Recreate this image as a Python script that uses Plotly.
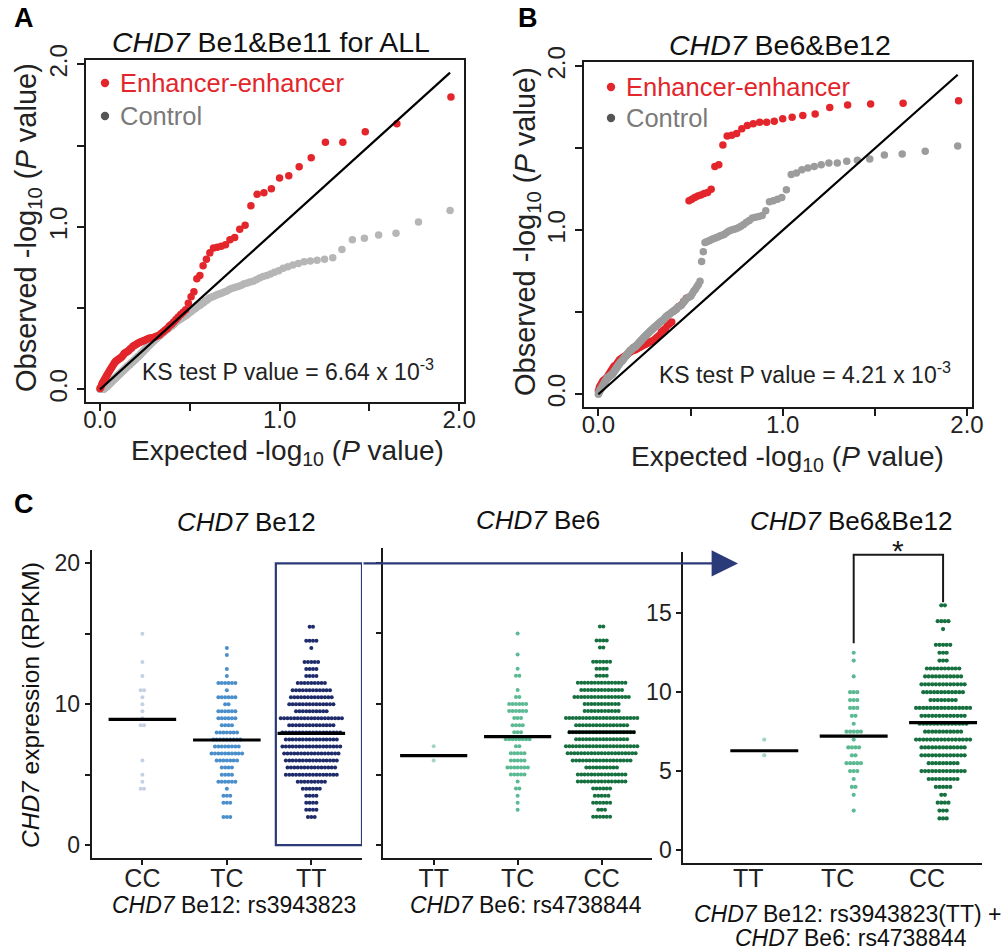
import numpy as np
import plotly.graph_objects as go

W, H = 1006, 952
FONT = "Arial, 'Liberation Sans', Helvetica, sans-serif"

# ---------------- QQ plot data (observed -log10 P, sorted by rank) ----------------
N_EE = 90            # enhancer-enhancer pairs
N_CTRL = 178         # control pairs
CTRL_FIRST_RANK = 2  # control rank 1 lies beyond the x range

a_ee_obs = [1.80, 1.635, 1.585, 1.52, 1.52, 1.425, 1.37, 1.315, 1.30, 1.235,
            1.21, 1.20, 1.13, 1.01, 0.985, 0.935, 0.92, 0.89, 0.88, 0.875,
            0.87, 0.84, 0.80, 0.76, 0.70, 0.68, 0.60, 0.57, 0.53, 0.49,
            0.475, 0.46, 0.445, 0.43, 0.415, 0.40, 0.39, 0.375, 0.365, 0.355,
            0.345, 0.335, 0.33, 0.325, 0.32, 0.318, 0.316, 0.314, 0.31, 0.305,
            0.30, 0.297, 0.293, 0.29, 0.285, 0.28, 0.275, 0.27, 0.265, 0.255,
            0.25, 0.24, 0.235, 0.23, 0.225, 0.22, 0.21, 0.20, 0.195, 0.19,
            0.185, 0.18, 0.175, 0.17, 0.16, 0.15, 0.14, 0.13, 0.12, 0.11,
            0.10, 0.09, 0.08, 0.07, 0.06, 0.05, 0.04, 0.03, 0.015, 0.005]

a_ctrl_obs = [1.10, 1.03, 0.96, 0.95, 0.93, 0.92, 0.86, 0.81, 0.80,
              0.795, 0.79, 0.785, 0.775, 0.765, 0.755, 0.745, 0.73, 0.72, 0.71,
              0.70, 0.695, 0.685, 0.675, 0.665, 0.66, 0.655, 0.65, 0.64, 0.635,
              0.63, 0.625, 0.62, 0.615, 0.605, 0.60, 0.595, 0.59, 0.585, 0.58,
              0.575, 0.57, 0.565, 0.56, 0.55, 0.545, 0.535, 0.53, 0.52, 0.515,
              0.51, 0.50, 0.495, 0.49, 0.48, 0.475, 0.47, 0.46, 0.455, 0.45,
              0.445, 0.44, 0.435, 0.43, 0.425, 0.42, 0.415, 0.41, 0.40, 0.395,
              0.39, 0.385, 0.38, 0.375, 0.37, 0.365, 0.36, 0.355, 0.35, 0.345,
              0.34, 0.335, 0.33, 0.325, 0.32, 0.315, 0.31, 0.305, 0.30, 0.295,
              0.29, 0.285, 0.28, 0.275, 0.27, 0.265, 0.26, 0.255, 0.25, 0.245,
              0.24, 0.235, 0.23, 0.225, 0.22, 0.215, 0.21, 0.205, 0.20, 0.20,
              0.195, 0.19, 0.185, 0.18, 0.18, 0.175, 0.17, 0.165, 0.165, 0.16,
              0.155, 0.15, 0.15, 0.145, 0.14, 0.14, 0.135, 0.13, 0.125, 0.125,
              0.12, 0.115, 0.115, 0.11, 0.105, 0.105, 0.10, 0.095, 0.095, 0.09,
              0.085, 0.085, 0.08, 0.075, 0.075, 0.07, 0.065, 0.065, 0.06, 0.06,
              0.055, 0.05, 0.05, 0.045, 0.04, 0.04, 0.035, 0.035, 0.03, 0.025,
              0.025, 0.02, 0.02, 0.015, 0.015, 0.01, 0.01, 0.005, 0.005, 0.0,
              0.0, 0.0, 0.0, 0.0, 0.0, 0.0, 0.0, 0.0]

b_ee_obs = [1.79, 1.775, 1.77, 1.765, 1.75, 1.71, 1.70, 1.69, 1.68, 1.665,
            1.66, 1.66, 1.65, 1.64, 1.62, 1.59, 1.58, 1.575, 1.52, 1.40,
            1.39, 1.25, 1.23, 1.225, 1.215, 1.21, 1.20, 1.19, 1.18, 0.585,
            0.565, 0.545, 0.535, 0.52, 0.51, 0.44, 0.43, 0.42, 0.40, 0.39,
            0.38, 0.36, 0.35, 0.34, 0.33, 0.325, 0.32, 0.315, 0.31, 0.305,
            0.30, 0.295, 0.29, 0.285, 0.28, 0.275, 0.27, 0.27, 0.265, 0.26,
            0.255, 0.25, 0.24, 0.235, 0.23, 0.225, 0.22, 0.215, 0.21, 0.20,
            0.19, 0.18, 0.175, 0.17, 0.16, 0.15, 0.14, 0.13, 0.12, 0.11,
            0.10, 0.095, 0.09, 0.085, 0.08, 0.07, 0.06, 0.05, 0.04, 0.02]

b_ctrl_obs = [1.515, 1.483, 1.465, 1.459, 1.435, 1.428, 1.422, 1.41, 1.41,
              1.40, 1.39, 1.38, 1.37, 1.35, 1.34, 1.247, 1.20, 1.19, 1.18,
              1.175, 1.12, 1.09, 1.085, 1.08, 1.075, 1.06, 1.05, 1.035, 1.025,
              1.015, 1.01, 1.005, 1.0, 0.995, 0.985, 0.975, 0.97, 0.965, 0.96,
              0.955, 0.95, 0.945, 0.94, 0.935, 0.93, 0.925, 0.87, 0.81, 0.69,
              0.67, 0.655, 0.64, 0.63, 0.615, 0.60, 0.595, 0.59, 0.585, 0.575,
              0.565, 0.555, 0.545, 0.54, 0.535, 0.53, 0.52, 0.515, 0.51, 0.505,
              0.50, 0.495, 0.49, 0.485, 0.48, 0.475, 0.47, 0.46, 0.455, 0.45,
              0.445, 0.44, 0.435, 0.43, 0.425, 0.42, 0.415, 0.41, 0.405, 0.40,
              0.395, 0.39, 0.385, 0.38, 0.375, 0.37, 0.365, 0.36, 0.355, 0.35,
              0.345, 0.34, 0.335, 0.33, 0.325, 0.32, 0.315, 0.31, 0.305, 0.30,
              0.295, 0.29, 0.29, 0.285, 0.285, 0.28, 0.275, 0.27, 0.27, 0.265,
              0.26, 0.255, 0.25, 0.245, 0.24, 0.235, 0.23, 0.225, 0.22, 0.215,
              0.21, 0.205, 0.20, 0.20, 0.195, 0.19, 0.185, 0.18, 0.175, 0.17,
              0.165, 0.16, 0.155, 0.15, 0.145, 0.14, 0.135, 0.13, 0.125, 0.12,
              0.12, 0.115, 0.115, 0.11, 0.11, 0.105, 0.105, 0.10, 0.10, 0.095,
              0.09, 0.085, 0.08, 0.075, 0.07, 0.065, 0.06, 0.055, 0.05, 0.045,
              0.04, 0.035, 0.03, 0.025, 0.02, 0.015, 0.01, 0.0]

ks_a = "KS test P value = 6.64 x 10<sup>-3</sup>"
ks_b = "KS test P value = 4.21 x 10<sup>-3</sup>"

# ---------------- expression dot-plot data (samples per 0.5 RPKM bin) ----------------
rpkm_bins = [2.0, 2.5, 3.0, 3.5, 4.0, 4.5, 5.0, 5.5, 6.0, 6.5, 7.0, 7.5, 8.0, 8.5,
             9.0, 9.5, 10.0, 10.5, 11.0, 11.5, 12.0, 12.5, 13.0, 13.5, 14.0, 14.5, 15.0, 15.5]

be12_labels = ["CC", "TC", "TT"]
be12_cc = [0, 0, 0, 0, 2, 1, 1, 0, 1, 0, 0, 0, 0, 2, 1, 1, 1, 1, 2, 0, 1, 0, 1, 0, 0, 0, 1, 0]
be12_tc = [3, 0, 3, 3, 1, 6, 4, 4, 7, 10, 8, 9, 7, 4, 6, 6, 2, 6, 1, 6, 1, 1, 0, 1, 1, 0, 0, 0]
be12_tt = [3, 4, 4, 4, 6, 9, 16, 15, 16, 17, 18, 16, 18, 14, 19, 10, 14, 13, 12, 9, 4, 4, 5, 0, 1, 4, 0, 2]
be12_means = [8.93, 7.46, 7.93]

be6_labels = ["TT", "TC", "CC"]
be6_tt = [0, 0, 0, 0, 0, 0, 0, 0, 1, 0, 1, 0, 0, 0, 0, 0, 0, 0, 0, 0, 0, 0, 0, 0, 0, 0, 0, 0]
be6_tc = [0, 1, 1, 1, 2, 1, 5, 7, 5, 5, 2, 8, 3, 4, 3, 6, 6, 2, 1, 0, 2, 1, 0, 1, 0, 0, 1, 0]
be6_cc = [6, 3, 6, 5, 6, 15, 15, 10, 18, 21, 22, 16, 20, 16, 22, 11, 11, 17, 13, 15, 4, 4, 6, 0, 2, 4, 0, 2]
be6_means = [6.34, 7.69, 8.00]

comb_labels = ["TT", "TC", "CC"]
comb_tt = [0, 0, 0, 0, 0, 0, 0, 0, 1, 0, 1, 0, 0, 0, 0, 0, 0, 0, 0, 0, 0, 0, 0, 0, 0, 0, 0, 0]
comb_tc = [0, 1, 0, 1, 2, 1, 3, 5, 2, 4, 1, 5, 1, 2, 3, 3, 3, 0, 1, 0, 1, 1, 0, 0, 0, 0, 0, 0]
comb_cc = [3, 3, 4, 2, 5, 9, 13, 9, 13, 13, 16, 11, 14, 13, 16, 8, 12, 13, 11, 10, 3, 3, 5, 0, 1, 4, 0, 2]
comb_means = [6.29, 7.22, 8.07]

# ---------------- styles ----------------
RED = "#e3262b"
GRAY_A = "#b6b6b6"
GRAY_B = "#9c9c9c"
NAVY = "#2b3a78"
BE12_COLORS = ["#c4d1e3", "#4a8fcb", "#1f2c6b"]
BE6_COLORS = ["#a3d6c2", "#5cba93", "#16703f"]
INK = "#1a1a1a"


def dom_x(a, b):
    return [a / W, b / W]


def dom_y(top, bottom):
    return [1 - bottom / H, 1 - top / H]


def px(x):
    return x / W


def py(y):
    return 1 - y / H


fig = go.Figure()


def qq(obs, n, first_rank, color, xa, ya):
    ranks = np.arange(first_rank, first_rank + len(obs))
    expected = np.log10(n / ranks)
    fig.add_trace(go.Scatter(x=expected, y=obs, mode="markers",
                             marker=dict(color=color, size=7.5, line=dict(width=0)),
                             xaxis=xa, yaxis=ya, showlegend=False, hoverinfo="skip"))
    return float(expected.max())


# Panel A
m1 = qq(a_ctrl_obs, N_CTRL, CTRL_FIRST_RANK, GRAY_A, "x", "y")
m2 = qq(a_ee_obs, N_EE, 1, RED, "x", "y")
mA = min(m1, m2)
fig.add_trace(go.Scatter(x=[0, mA], y=[0, mA], mode="lines", line=dict(color="black", width=2.2),
                         xaxis="x", yaxis="y", showlegend=False, hoverinfo="skip"))
# Panel B
m3 = qq(b_ee_obs, N_EE, 1, RED, "x2", "y2")
m4 = qq(b_ctrl_obs, N_CTRL, CTRL_FIRST_RANK, GRAY_B, "x2", "y2")
mB = min(m3, m4)
fig.add_trace(go.Scatter(x=[0, mB], y=[0, mB], mode="lines", line=dict(color="black", width=2.2),
                         xaxis="x2", yaxis="y2", showlegend=False, hoverinfo="skip"))

# ---------------- dot plots ----------------
C_DOMAINS = {
    "3": ((91.7, 362.0), (550.0, 858.0), (-0.6, 2.6), (-0.92, 20.95)),
    "4": ((383.3, 652.0), (548.0, 858.0), (-0.6, 2.6), (-0.92, 21.06)),
    "5": ((683.3, 981.7), (551.7, 863.3), (-0.906, 2.432), (-0.84, 18.9)),
}


def swarm(groups, colors, means, ax_id, half=0.4, pitch_px=3.4, size=4.0):
    (x0, x1), _, (r0, r1), _ = C_DOMAINS[ax_id]
    px_per_cat = (x1 - x0) / (r1 - r0)
    pitch = pitch_px / px_per_cat
    for gi, (counts, col) in enumerate(zip(groups, colors)):
        xs, ys = [], []
        for v, c in zip(rpkm_bins, counts):
            for i in range(c):
                xs.append(gi + (i - (c - 1) / 2) * pitch)
                ys.append(v)
        fig.add_trace(go.Scatter(x=xs, y=ys, mode="markers",
                                 marker=dict(color=col, size=size, line=dict(width=0)),
                                 xaxis="x" + ax_id, yaxis="y" + ax_id,
                                 showlegend=False, hoverinfo="skip"))
    for gi, m in enumerate(means):
        fig.add_trace(go.Scatter(x=[gi - half, gi + half], y=[m, m], mode="lines",
                                 line=dict(color="black", width=3.2),
                                 xaxis="x" + ax_id, yaxis="y" + ax_id,
                                 showlegend=False, hoverinfo="skip"))


swarm([be12_cc, be12_tc, be12_tt], BE12_COLORS, be12_means, "3")
swarm([be6_tt, be6_tc, be6_cc], BE6_COLORS, be6_means, "4")
swarm([comb_tt, comb_tc, comb_cc], BE6_COLORS, comb_means, "5", half=0.38, pitch_px=3.6, size=4.2)

# ---------------- axes ----------------
qq_base = dict(range=[-0.078, 2.027], tickvals=[0, 1, 2], ticktext=["0.0", "1.0", "2.0"],
               minor=dict(tickvals=[0.5, 1.5], ticks="outside", ticklen=7, tickwidth=1.8,
                          tickcolor=INK, showgrid=False),
               showline=True, linecolor=INK, linewidth=2.4, mirror=True, ticks="outside",
               ticklen=7, tickwidth=1.8, tickcolor=INK, showgrid=False, zeroline=False,
               automargin=False,
               tickfont=dict(size=24, color="#222", family=FONT))
qq_x = dict(qq_base, ticklabelstandoff=-12)
qq_y = dict(qq_base, tickangle=-90)

c_x_common = dict(showline=True, linecolor=INK, linewidth=2, ticks="outside", ticklen=5,
                  tickwidth=1.5, tickcolor=INK, showgrid=False, zeroline=False,
                  automargin=False, ticklabelstandoff=-8,
                  tickfont=dict(size=25, color="#222", family=FONT))
c_y_common = dict(showline=True, linecolor=INK, linewidth=2, ticks="outside", ticklen=5,
                  tickwidth=1.5, tickcolor=INK, showgrid=False, zeroline=False,
                  automargin=False,
                  tickfont=dict(size=23, color="#222", family=FONT))

layout = dict(
    template="none",
    width=W, height=H, margin=dict(l=0, r=0, t=0, b=0, pad=0, autoexpand=False),
    paper_bgcolor="white", plot_bgcolor="white", showlegend=False,
    font=dict(family=FONT, color="#222"),
    xaxis=dict(domain=dom_x(86, 464), anchor="y", **qq_x),
    yaxis=dict(domain=dom_y(60, 402), anchor="x", **qq_y),
    xaxis2=dict(domain=dom_x(584, 972), anchor="y2", **qq_x),
    yaxis2=dict(domain=dom_y(62, 407), anchor="x2", **qq_y),
)
for k, labels in (("3", be12_labels), ("4", be6_labels), ("5", comb_labels)):
    (x0, x1), (t, b), xr, yr = C_DOMAINS[k]
    xa = dict(domain=dom_x(x0, x1), anchor="y" + k, range=list(xr),
              tickvals=[0, 1, 2], ticktext=labels, **c_x_common)
    if k == "5":
        xa["tickvals"] = [-0.18, 0.82, 1.82]
        xa["ticks"] = ""
    if k == "3":
        ya = dict(domain=dom_y(t, b), anchor="x" + k, range=list(yr),
                  tickvals=[0, 10, 20], ticktext=["0", "10", "20"],
                  minor=dict(tickvals=[5, 15], ticks="outside", ticklen=5, tickwidth=1.5,
                             tickcolor=INK, showgrid=False), **c_y_common)
    elif k == "4":
        ya = dict(domain=dom_y(t, b), anchor="x" + k, range=list(yr),
                  tickvals=[0, 5, 10, 15, 20], showticklabels=False, **c_y_common)
    else:
        ya = dict(domain=dom_y(t, b), anchor="x" + k, range=list(yr),
                  tickvals=[0, 5, 10, 15], ticktext=["0", "5", "10", "15"], **c_y_common)
    layout["xaxis" + k] = xa
    layout["yaxis" + k] = ya

fig.update_layout(**layout)

# ---------------- shapes: legend dots, highlight box, bracket ----------------
shapes = []
for (cx, cy, col) in ((105, 83, RED), (105, 116, "#555555"), (611, 87, RED), (611, 118, "#555555")):
    r = 4.2
    shapes.append(dict(type="circle", xref="paper", yref="paper",
                       x0=px(cx - r), x1=px(cx + r), y0=py(cy + r), y1=py(cy - r),
                       fillcolor=col, line=dict(width=0)))
box_top = 20
shapes.append(dict(type="rect", xref="x3", yref="y3", x0=2 - 0.42, x1=2.6, y0=0, y1=box_top,
                   line=dict(color=NAVY, width=2.2), fillcolor="rgba(0,0,0,0)"))
tc_top = max(v for v, c in zip(rpkm_bins, comb_tc) if c)
cc_top = max(v for v, c in zip(rpkm_bins, comb_cc) if c)
br_top = 18.7
shapes.append(dict(type="path", xref="x5", yref="y5",
                   path=f"M 1,{tc_top + 0.6} L 1,{br_top} L 2,{br_top} L 2,{cc_top + 0.2}",
                   line=dict(color=INK, width=2)))
fig.update_layout(shapes=shapes)

# ---------------- annotations ----------------
ann = []


def text(x, y, s, size, color="#222", angle=0, xanchor="center", yanchor="middle", **kw):
    ann.append(dict(x=px(x), y=py(y), xref="paper", yref="paper", text=s, showarrow=False,
                    font=dict(size=size, color=color, family=FONT), textangle=angle,
                    xanchor=xanchor, yanchor=yanchor, **kw))


text(24, 18, "<b>A</b>", 27, "black")
text(528, 18, "<b>B</b>", 27, "black")
text(24, 504, "<b>C</b>", 27, "black")

text(271, 42, "<i>CHD7</i> Be1&Be11 for ALL", 28.5, "#111")
text(780, 45, "<i>CHD7</i> Be6&Be12", 28.5, "#111")

text(118, 83, "Enhancer-enhancer", 25.5, RED, xanchor="left")
text(118, 116, "Control", 25.5, "#7a7a7a", xanchor="left")
text(624, 87, "Enhancer-enhancer", 25.5, RED, xanchor="left")
text(624, 118, "Control", 25.5, "#7a7a7a", xanchor="left")

text(288, 370, ks_a, 23, "#222")
text(805, 373, ks_b, 23, "#222")

xt = "Expected -log<sub>10</sub> (<i>P</i> value)"
yt = "Observed -log<sub>10</sub> (<i>P</i> value)"
text(287, 452, xt, 28, "#222")
text(787, 458, xt, 28, "#222")
text(28, 228, yt, 29, "#222", angle=-90)
text(527, 232, yt, 29, "#222", angle=-90)

text(246, 522, "<i>CHD7</i> Be12", 26, "#111")
text(538, 520, "<i>CHD7</i> Be6", 26, "#111")
text(851, 521, "<i>CHD7</i> Be6&Be12", 26, "#111")
text(30, 705, "<i>CHD7</i> expression (RPKM)", 24.5, "#111", angle=-90)
text(234, 905, "<i>CHD7</i> Be12: rs3943823", 23, "#111")
text(526, 905, "<i>CHD7</i> Be6: rs4738844", 23, "#111")
text(847, 914, "<i>CHD7</i> Be12: rs3943823(TT) +", 23, "#111")
text(851, 938, "<i>CHD7</i> Be6: rs4738844", 23, "#111")

# significance star
ann.append(dict(x=1.5, y=br_top, xref="x5", yref="y5", text="*", showarrow=False,
                font=dict(size=30, color=INK, family=FONT), yanchor="bottom", yshift=-14))

# arrow from highlighted TT box to combined panel
(c1x0, c1x1), (c1t, c1b), (c1r0, c1r1), (y0r, y1r) = C_DOMAINS["3"]
tail_px = c1x0 + (2.6 - c1r0) / (c1r1 - c1r0) * (c1x1 - c1x0)
arrow_y = c1b - (box_top - y0r) / (y1r - y0r) * (c1b - c1t)
head_px = 738
ann.append(dict(x=px(head_px), y=py(arrow_y), xref="paper", yref="paper", text="",
                showarrow=True, axref="pixel", ayref="pixel", ax=tail_px - head_px, ay=0,
                arrowhead=2, arrowsize=2.4, arrowwidth=2.2, arrowcolor=NAVY, standoff=0))

fig.update_layout(annotations=ann)

pin_js = ("document.body.style.margin='0';document.body.style.overflow='hidden';"
          "var gd=document.getElementById('{plot_id}');"
          "gd.style.position='fixed';gd.style.top='0px';gd.style.left='0px';")
fig.write_html("out.html", config={"displayModeBar": False}, post_script=pin_js)
